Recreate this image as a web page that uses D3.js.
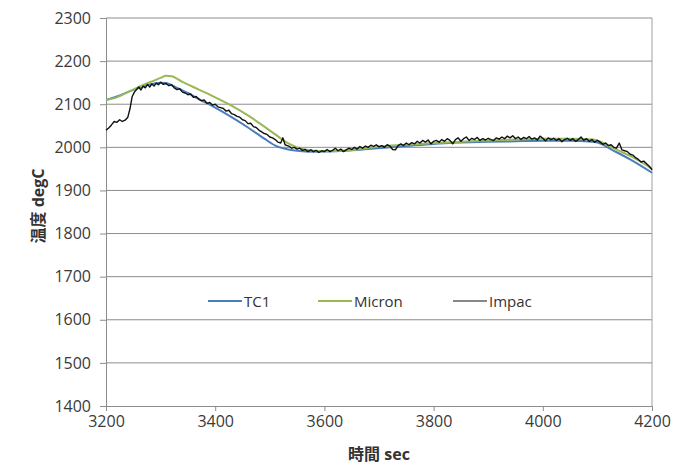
<!DOCTYPE html>
<html>
<head>
<meta charset="utf-8">
<script src="https://cdn.jsdelivr.net/npm/d3@7"></script>
<style>
  body { margin: 0; background: #fff; }
  text { font-family: "Open Sans", "Noto Sans CJK JP", sans-serif; }
</style>
</head>
<body>
<svg id="chart"></svg>
<script>
const width = 674;
const height = 467;
const margin = {top: 18, right: 22, bottom: 61, left: 106};

const xTicks = [3200, 3400, 3600, 3800, 4000, 4200];
const yTicks = [1400, 1500, 1600, 1700, 1800, 1900, 2000, 2100, 2200, 2300];

const tc1Time = [3200, 3220, 3240, 3260, 3280, 3300, 3310, 3330, 3350, 3370, 3400, 3430, 3460, 3490, 3510, 3530, 3550, 3580, 3620, 3680, 3750, 3800, 3850, 3900, 3950, 4000, 4050, 4090, 4100, 4130, 4160, 4200];
const tc1Temp = [2110, 2118, 2128, 2138, 2146, 2150, 2149, 2138, 2126, 2112, 2092, 2070, 2046, 2020, 2004, 1996, 1992, 1990, 1991, 1996, 2003, 2008, 2011, 2013, 2014, 2015, 2015, 2013, 2011, 1992, 1972, 1941];

const micronTime = [3200, 3220, 3240, 3260, 3280, 3300, 3310, 3320, 3340, 3370, 3400, 3430, 3460, 3490, 3510, 3530, 3550, 3570, 3600, 3650, 3700, 3750, 3800, 3850, 3900, 3950, 4000, 4050, 4090, 4100, 4120, 4140, 4160, 4180, 4200];
const micronTemp = [2110, 2116, 2128, 2140, 2151, 2161, 2166, 2165, 2152, 2134, 2116, 2097, 2074, 2048, 2030, 2012, 2000, 1994, 1991, 1994, 2002, 2006, 2010, 2013, 2016, 2018, 2020, 2020, 2018, 2016, 2004, 1992, 1980, 1966, 1950];

const impacTime = [3200, 3205, 3210, 3215, 3220, 3225, 3230, 3235, 3240, 3244, 3248, 3252, 3256, 3260, 3264, 3268, 3272, 3276, 3280, 3284, 3288, 3292, 3296, 3300,
  3305, 3310, 3315, 3320, 3325, 3330, 3335, 3340, 3345, 3350, 3355, 3360, 3365, 3370, 3375, 3380, 3385, 3390, 3395, 3400,
  3405, 3410, 3415, 3420, 3425, 3430, 3435, 3440, 3445, 3450, 3455, 3460, 3465, 3470, 3475, 3480, 3485, 3490, 3495, 3500,
  3505, 3510, 3515, 3520, 3524, 3528, 3532, 3536, 3540, 3545, 3550, 3555, 3560, 3565, 3570, 3575, 3580, 3585, 3590, 3595, 3600,
  3605, 3610, 3615, 3620, 3625, 3630, 3635, 3640, 3645, 3650, 3655, 3660, 3665, 3670, 3675, 3680, 3685, 3690, 3695, 3700,
  3705, 3710, 3715, 3720, 3725, 3730, 3735, 3740, 3745, 3750, 3755, 3760, 3765, 3770, 3775, 3780, 3785, 3790, 3795, 3800,
  3805, 3810, 3815, 3820, 3825, 3830, 3835, 3840, 3845, 3850, 3855, 3860, 3865, 3870, 3875, 3880, 3885, 3890, 3895, 3900,
  3905, 3910, 3915, 3920, 3925, 3930, 3935, 3940, 3945, 3950, 3955, 3960, 3965, 3970, 3975, 3980, 3985, 3990, 3995, 4000,
  4005, 4010, 4015, 4020, 4025, 4030, 4035, 4040, 4045, 4050, 4055, 4060, 4065, 4070, 4075, 4080, 4085, 4090, 4095, 4100,
  4105, 4110, 4115, 4120, 4125, 4130, 4135, 4140, 4145, 4150, 4155, 4160, 4165, 4170, 4175, 4180, 4185, 4190, 4195, 4200];
const impacTemp = [2040, 2045, 2052, 2060, 2058, 2064, 2060, 2063, 2070, 2090, 2118, 2128, 2134, 2140, 2133, 2142, 2138, 2146, 2140, 2147, 2142, 2149, 2145, 2151,
  2146, 2148, 2143, 2145, 2138, 2134, 2136, 2128, 2126, 2122, 2124, 2116, 2118, 2112, 2108, 2110, 2102, 2104, 2098, 2100,
  2094, 2092, 2090, 2084, 2086, 2078, 2076, 2072, 2070, 2064, 2062, 2055, 2056, 2048, 2046, 2040, 2036, 2032, 2030, 2024,
  2022, 2018, 2012, 2010, 2022, 2006, 2004, 2002, 1998, 2000, 1996, 1998, 1993, 1995, 1990, 1994, 1990, 1993, 1988, 1992, 1990,
  1995, 1990, 1993, 1998, 1992, 1996, 1990, 1994, 1998, 1995, 2000, 1996, 2002, 1998, 2003, 2000, 2005, 2002, 2006, 2001,
  2004, 2000, 2006, 2003, 1995, 1994, 2004, 2008, 2004, 2010, 2006, 2011, 2008, 2014, 2010, 2016, 2012, 2017, 2008, 2014,
  2016, 2012, 2018, 2014, 2020, 2016, 2008, 2018, 2022, 2014, 2020, 2024, 2016, 2021, 2018, 2023, 2016, 2020, 2017, 2021,
  2018, 2016, 2022, 2019, 2024, 2020, 2026, 2022, 2027, 2020, 2024, 2018, 2023, 2020, 2025, 2019, 2022, 2017, 2026, 2021,
  2015, 2022, 2018, 2021, 2016, 2020, 2013, 2018, 2021, 2016, 2020, 2014, 2018, 2024, 2016, 2020, 2014, 2018, 2012, 2016,
  2012, 2007, 2010, 2004, 2006, 2000, 1998, 2010, 1994, 1992, 1990, 1984, 1982, 1976, 1972, 1966, 1968, 1962, 1956, 1948];

const seriesNames = ['TC1', 'Micron', 'Impac'];
const seriesColors = ['#4a7ebb', '#98b954', '#111111'];

const svg = d3.select('#chart')
            .attr('width', width)
            .attr('height', height);

const x = d3.scaleLinear().domain([3200, 4200]).range([margin.left, width - margin.right]);
const y = d3.scaleLinear().domain([1400, 2300]).range([height - margin.bottom, margin.top]);

// gridlines
svg.append('g').selectAll('line').data(yTicks.filter(d => d > 1400)).enter().append('line')
    .attr('x1', margin.left).attr('x2', width - margin.right)
    .attr('y1', d => y(d)).attr('y2', d => y(d))
    .attr('stroke', '#8c8c8c').attr('stroke-width', 1);

// right border
svg.append('line')
    .attr('x1', x(4200)).attr('x2', x(4200))
    .attr('y1', y(2300)).attr('y2', y(1400))
    .attr('stroke', '#a0a0a0');

const xAxis = svg.append('g')
    .attr('transform', `translate(0, ${y(1400)})`)
    .call(d3.axisBottom(x).tickValues(xTicks).tickSize(5).tickPadding(5).tickFormat(d3.format('d')));
const yAxis = svg.append('g')
    .attr('transform', `translate(${margin.left}, 0)`)
    .call(d3.axisLeft(y).tickValues(yTicks).tickSize(6).tickPadding(9).tickFormat(d3.format('d')));

[xAxis, yAxis].forEach(a => {
    a.selectAll('path, line').attr('stroke', '#8c8c8c');
    a.selectAll('text').attr('font-size', 16).attr('fill', '#3a3a3a');
});

const smoothLine = d3.line().curve(d3.curveMonotoneX).x(d => x(d[0])).y(d => y(d[1]));
const rawLine = d3.line().x(d => x(d[0])).y(d => y(d[1]));
const series = [
    d3.zip(tc1Time, tc1Temp),
    d3.zip(micronTime, micronTemp),
    d3.zip(impacTime, impacTemp)
];

series.forEach((s, i) => {
    svg.append('path')
        .datum(s)
        .attr('fill', 'none')
        .attr('stroke', seriesColors[i])
        .attr('stroke-width', i === 2 ? 1.4 : 2)
        .attr('stroke-linejoin', 'round')
        .attr('d', i === 2 ? rawLine : smoothLine);
});

// legend
const legendX = [208, 318, 453];
const legend = svg.append('g').attr('transform', 'translate(0, 301)');
seriesNames.forEach((name, i) => {
    legend.append('line')
        .attr('x1', legendX[i]).attr('x2', legendX[i] + 34)
        .attr('stroke', seriesColors[i]).attr('stroke-width', i === 2 ? 1.2 : 2);
    legend.append('text')
        .attr('x', legendX[i] + 36).attr('y', 6)
        .attr('font-size', 15).attr('fill', '#333')
        .text(name);
});

// axis titles
svg.append('text')
    .attr('x', (x(3200) + x(4200)) / 2).attr('y', 460)
    .attr('text-anchor', 'middle').attr('font-size', 16).attr('font-weight', 'bold').attr('fill', '#333')
    .text('時間 sec');

svg.append('text')
    .attr('transform', 'translate(44, 206) rotate(-90)')
    .attr('text-anchor', 'middle').attr('font-size', 16).attr('font-weight', 'bold').attr('fill', '#333')
    .text('温度 degC');
</script>
</body>
</html>
